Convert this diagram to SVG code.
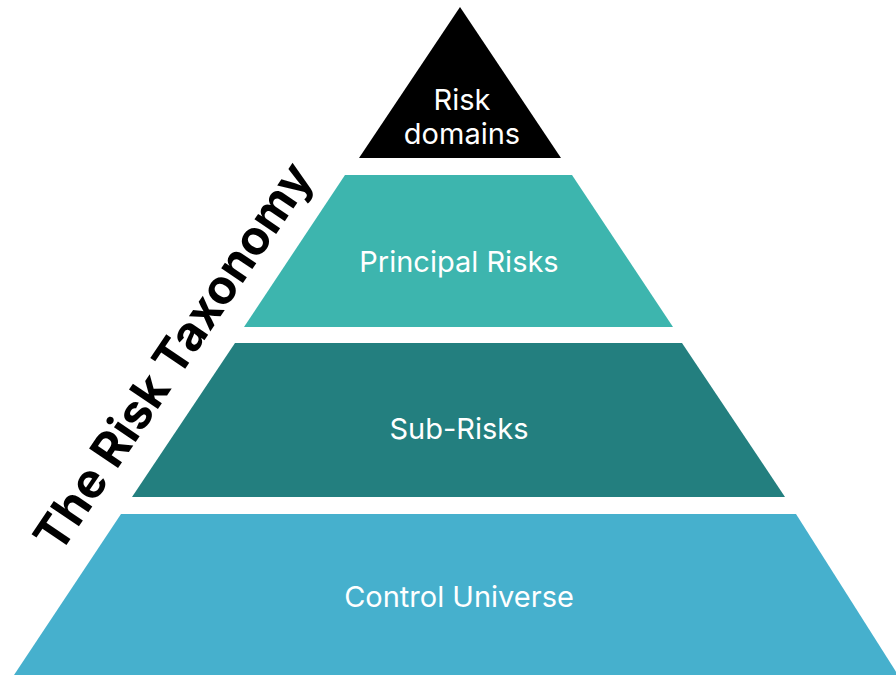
<svg xmlns="http://www.w3.org/2000/svg" width="896" height="675" viewBox="0 0 896 675">
<style>
.lbl{font-family:Inter,"Noto Sans","Liberation Sans",sans-serif;font-size:29px;fill:#ffffff;text-anchor:middle}
.title{font-family:Inter,"Noto Sans","Liberation Sans",sans-serif;font-size:48px;font-weight:700;fill:#000000;text-anchor:middle}
</style>
<rect width="896" height="675" fill="#ffffff"/>
<g id="risk-domains">
<polygon points="460,7 561,158 359,158" fill="#000000"/>
<text class="lbl" x="462" y="110">Risk</text>
<text class="lbl" x="462" y="144">domains</text>
</g>
<g id="principal-risks">
<polygon points="345,175 572,175 673,327 244,327" fill="#3DB5AE"/>
<text class="lbl" x="459" y="272">Principal Risks</text>
</g>
<g id="sub-risks">
<polygon points="235,343 682,343 785,497 132,497" fill="#237F7F"/>
<text class="lbl" x="459" y="439">Sub-Risks</text>
</g>
<g id="control-universe">
<polygon points="121,514 796,514 898,675 14,675" fill="#46B0CD"/>
<text class="lbl" x="459" y="607">Control Universe</text>
</g>
<g id="title">
<text class="title" x="187" y="366" transform="rotate(-56 187 366)">The Risk Taxonomy</text>
</g>
</svg>
